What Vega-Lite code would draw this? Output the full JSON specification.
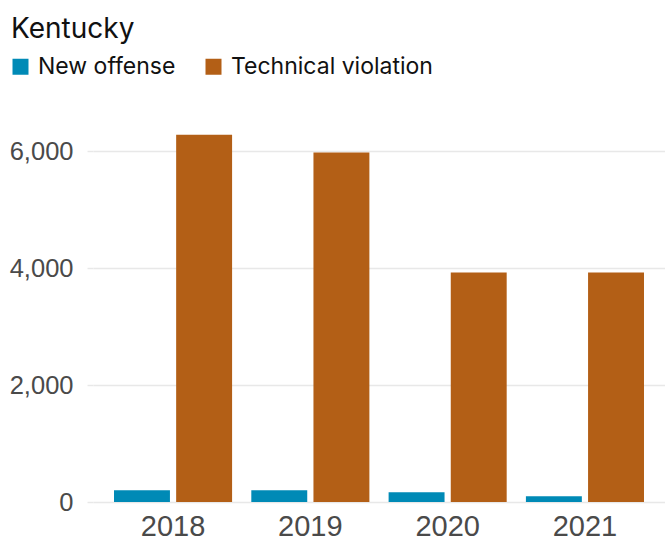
{
  "$schema": "https://vega.github.io/schema/vega-lite/v6.json",
  "autosize": "none",
  "width": 572,
  "height": 409,
  "padding": {"left": 93, "top": 93, "right": 0, "bottom": 38},
  "title": {
    "text": "Kentucky",
    "anchor": "start",
    "frame": "group",
    "dx": -82,
    "font": "Inter",
    "fontSize": 28,
    "fontWeight": "normal",
    "color": "#111111",
    "offset": 11
  },
  "data": {
    "values": [
      {"year": "2018", "type": "New offense", "value": 200},
      {"year": "2018", "type": "Technical violation", "value": 6287},
      {"year": "2019", "type": "New offense", "value": 200},
      {"year": "2019", "type": "Technical violation", "value": 5980},
      {"year": "2020", "type": "New offense", "value": 166},
      {"year": "2020", "type": "Technical violation", "value": 3926},
      {"year": "2021", "type": "New offense", "value": 97},
      {"year": "2021", "type": "Technical violation", "value": 3926}
    ]
  },
  "mark": {"type": "bar"},
  "encoding": {
    "x": {
      "field": "year",
      "type": "nominal",
      "scale": {"paddingInner": 0.14, "paddingOuter": 0.153},
      "axis": {
        "title": null,
        "labelAngle": 0,
        "domain": false,
        "ticks": false,
        "labelFont": "Liberation Sans",
        "labelFontSize": 29,
        "labelColor": "#4a4a4a",
        "labelPadding": 10
      }
    },
    "xOffset": {
      "field": "type",
      "type": "nominal",
      "scale": {"paddingInner": 0.1, "paddingOuter": 0}
    },
    "y": {
      "field": "value",
      "type": "quantitative",
      "scale": {"domain": [0, 7000], "nice": false},
      "axis": {
        "title": null,
        "values": [0, 2000, 4000, 6000],
        "domain": false,
        "ticks": true,
        "tickSize": 6,
        "tickColor": "#e8e8e8",
        "tickWidth": 1.5,
        "gridColor": "#e8e8e8",
        "gridWidth": 1.5,
        "labelFont": "Liberation Sans",
        "labelFontSize": 25.5,
        "labelColor": "#4a4a4a",
        "labelPadding": 14,
        "format": ",.0f"
      }
    },
    "color": {
      "field": "type",
      "type": "nominal",
      "scale": {
        "domain": ["New offense", "Technical violation"],
        "range": ["#008AB6", "#B35F16"]
      },
      "legend": {
        "title": null,
        "orient": "none",
        "legendX": -84,
        "legendY": -38,
        "direction": "horizontal",
        "symbolType": "square",
        "symbolSize": 256,
        "symbolStrokeWidth": 0,
        "symbolOpacity": 1,
        "labelFont": "Inter",
        "labelFontSize": 23,
        "labelColor": "#111111",
        "labelOffset": 6,
        "labelLimit": 400,
        "columnPadding": 26
      }
    }
  },
  "config": {
    "view": {"stroke": null},
    "background": "white"
  }
}
